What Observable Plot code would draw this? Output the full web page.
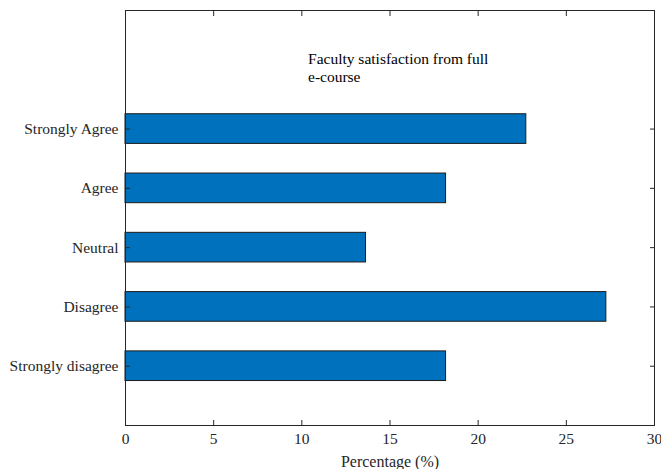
<!DOCTYPE html>
<html>
<head>
<meta charset="utf-8">
<script src="https://cdn.jsdelivr.net/npm/d3@7"></script>
<script src="https://cdn.jsdelivr.net/npm/@observablehq/plot@0.6"></script>
<style>
  html, body { margin: 0; padding: 0; background: #fff; }
  #chart { width: 661px; height: 469px; }
</style>
</head>
<body>
<div id="chart"></div>
<script>
const categories = ["Strongly disagree", "Disagree", "Neutral", "Agree", "Strongly Agree"];
const percentages = [18.18, 27.27, 13.64, 18.18, 22.73];
const xTicks = [0, 5, 10, 15, 20, 25, 30];
const titleLines = ["Faculty satisfaction from full", "e-course"];
const xLabel = "Percentage (%)";

const data = categories.map((c, i) => ({category: c, pos: i + 1, value: percentages[i]}));
const font = "'Liberation Serif', 'Times New Roman', serif";
const axisColor = "#262626";

const chart = Plot.plot({
  width: 661,
  height: 469,
  marginLeft: 125,
  marginRight: 7,
  marginTop: 10,
  marginBottom: 44,
  style: {fontFamily: font, fontSize: "15.5px", color: axisColor, background: "#fff"},
  x: {domain: [0, 30], label: null},
  y: {domain: [0, 7], label: null},
  marks: [
    Plot.rectX(data, {
      x1: 0, x2: "value",
      y1: d => d.pos - 0.25, y2: d => d.pos + 0.25,
      fill: "#0072BD", stroke: "#1a1a1a", strokeWidth: 1
    }),
    Plot.frame({stroke: axisColor, strokeWidth: 1}),
    Plot.axisX(xTicks, {anchor: "bottom", tickSize: -5, tickPadding: 12, fontSize: 15.5, stroke: axisColor, color: axisColor, label: null}),
    Plot.axisX(xTicks, {anchor: "top", tickSize: -5, tickFormat: () => "", stroke: axisColor, label: null}),
    Plot.axisY(data.map(d => d.pos), {anchor: "left", tickSize: -5, tickPadding: 12, tickFormat: p => categories[p - 1], fontSize: 15.5, stroke: axisColor, label: null}),
    Plot.axisY(data.map(d => d.pos), {anchor: "right", tickSize: -5, tickFormat: () => "", stroke: axisColor, label: null}),
    Plot.text([xLabel], {frameAnchor: "bottom", dy: 41, fontSize: 16, fill: axisColor, text: d => d}),
    Plot.text([titleLines.join("\n")], {x: 10.35, y: 6.32, textAnchor: "start", lineAnchor: "top", lineHeight: 1.17, fontSize: 15.5, fill: "#000", text: d => d})
  ]
});
document.getElementById("chart").appendChild(chart);
</script>
</body>
</html>
